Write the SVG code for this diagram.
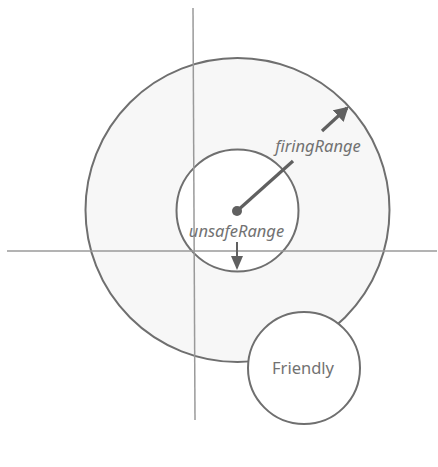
<svg xmlns="http://www.w3.org/2000/svg" width="438" height="467" viewBox="0 0 438 467">
<style>
.ring{stroke:#6f6f6f;stroke-width:2}
.axis{stroke:#9a9a9a;stroke-width:1.5;fill:none}
.lbl{font-family:"Noto Sans","Open Sans",sans-serif;font-size:16.5px;fill:#727272}
.it{font-style:italic}
.ptr{stroke:#606060;stroke-width:3.2;fill:none}
</style>
<defs>
<marker id="ahBig" markerWidth="14" markerHeight="16" refX="12" refY="8" orient="auto" markerUnits="userSpaceOnUse">
<path d="M0,0 L14,8 L0,16 z" fill="#606060"/>
</marker>
<marker id="ahSmall" markerWidth="14" markerHeight="12" refX="12" refY="6" orient="auto" markerUnits="userSpaceOnUse">
<path d="M0,0 L14,6 L0,12 z" fill="#606060"/>
</marker>
</defs>
<rect width="438" height="467" fill="#ffffff"/>
<g id="firingRange">
<circle cx="237.5" cy="210" r="152" fill="#f7f7f7" class="ring"/>
</g>
<g id="unsafeRange">
<circle cx="237.5" cy="210.5" r="61" fill="#ffffff" class="ring"/>
</g>
<g id="axes">
<line x1="193" y1="8" x2="195" y2="420" class="axis"/>
<line x1="7" y1="251" x2="437" y2="251" class="axis"/>
</g>
<g id="connectors">
<line x1="237" y1="211" x2="293" y2="161" class="ptr"/>
<line x1="322" y1="131" x2="347" y2="108" class="ptr" marker-end="url(#ahBig)"/>
<line x1="237" y1="242" x2="237" y2="268" stroke="#606060" stroke-width="2" marker-end="url(#ahSmall)"/>
<circle cx="237" cy="211" r="5" fill="#606060"/>
</g>
<g id="friendly">
<circle cx="304" cy="368" r="56" fill="#ffffff" class="ring"/>
<text x="303" y="374" text-anchor="middle" class="lbl">Friendly</text>
</g>
<g id="labels">
<text x="318" y="152" text-anchor="middle" class="lbl it">firingRange</text>
<text x="236.5" y="237" text-anchor="middle" class="lbl it">unsafeRange</text>
</g>
</svg>
